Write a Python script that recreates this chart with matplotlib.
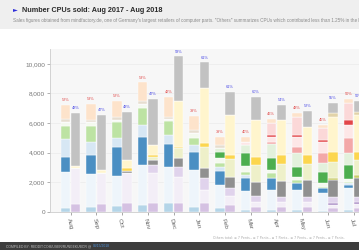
import matplotlib
matplotlib.use("Agg")
import matplotlib.pyplot as plt
from matplotlib.patches import Rectangle
import numpy as np

plt.rcParams["font.family"] = ["Liberation Sans Narrow", "Liberation Sans", "DejaVu Sans"]

months = ["Aug", "Sep", "Oct", "Nov", "Dec", "Jan", "Feb", "Mar", "Apr", "May", "Jun", "Jul"]
amd_share = [52, 53, 52, 53, 42, 39, 39, 40, 46, 48, 45, 50]
intel_share = [48, 47, 48, 47, 58, 61, 61, 60, 54, 52, 55, 50]

# left bar of each month, bottom -> top
amd_lightblue = [250, 360, 430, 470, 590, 360, 250, 135, 135, 135, 90, 135]
amd_pale = [2470, 2210, 2000, 2710, 2470, 2480, 1580, 1305, 1355, 1355, 1170, 1465]
amd_medblue = [1020, 1280, 1980, 1910, 1540, 1220, 960, 840, 790, 450, 340, 230]
amd_sky = [1170, 900, 570, 790, 600, 470, 230, 220, 0, 0, 0, 110]
amd_lgreen = [900, 1020, 1120, 1130, 950, 450, 270, 220, 340, 200, 110, 110]
amd_palewhite = [230, 270, 120, 300, 150, 360, 340, 390, 220, 250, 230, 160]
amd_bgreen = [0, 0, 0, 0, 0, 0, 450, 860, 790, 670, 780, 970]
amd_palegreen = [0, 0, 0, 0, 0, 0, 230, 560, 950, 910, 570, 790]
amd_pink = [0, 0, 0, 0, 0, 0, 0, 0, 170, 440, 680, 1010]
amd_palepink = [0, 0, 0, 0, 0, 0, 0, 220, 300, 640, 780, 900]
amd_red = [0, 0, 0, 0, 0, 0, 0, 0, 150, 150, 120, 340]
amd_palepink2 = [0, 0, 0, 0, 0, 0, 0, 0, 800, 1240, 790, 1130]
amd_thin = [230, 180, 220, 150, 120, 200, 220, 0, 0, 0, 0, 0]
amd_peach = [960, 1080, 1060, 1280, 1330, 950, 560, 340, 290, 270, 220, 290]

# right bar of each month, bottom -> top
intel_purple = [540, 540, 590, 590, 590, 590, 470, 360, 360, 360, 250, 250]
intel_palelav = [2410, 2120, 2030, 2030, 1760, 900, 610, 340, 340, 340, 220, 300]
intel_darkpurple = [0, 0, 0, 0, 0, 0, 0, 0, 0, 0, 120, 100]
intel_lavender = [0, 0, 0, 560, 670, 790, 520, 380, 330, 330, 440, 380]
intel_darkgray = [0, 0, 170, 335, 610, 670, 790, 970, 1070, 1130, 1130, 1250]
intel_olive = [0, 0, 0, 0, 0, 0, 0, 0, 0, 0, 120, 220]
intel_paleyg = [0, 0, 0, 185, 700, 1420, 1170, 1130, 1145, 1090, 1120, 1015]
intel_gold = [0, 0, 160, 150, 80, 270, 290, 520, 605, 600, 680, 565]
intel_paleyellow = [160, 180, 565, 680, 3050, 3740, 2710, 2520, 2370, 1880, 2360, 2480]
intel_tan = [0, 0, 0, 0, 0, 0, 0, 0, 0, 0, 230, 220]
intel_gray = [3600, 3720, 3265, 3110, 3040, 1710, 1530, 1530, 1010, 1100, 680, 720]

amd_stack = [
    (amd_lightblue, "#b4d5e8"), (amd_pale, "#eef5fb"), (amd_medblue, "#4b8fc3"),
    (amd_sky, "#d7e7f4"), (amd_lgreen, "#bde3a3"), (amd_palewhite, "#f4f9ef"),
    (amd_bgreen, "#4dae4f"), (amd_palegreen, "#e3f1dc"), (amd_pink, "#f3a8a8"),
    (amd_palepink, "#fde7e7"), (amd_red, "#e2464a"), (amd_palepink2, "#fbd8d8"),
    (amd_thin, "#e6ddd0"), (amd_peach, "#fde3cb"),
]
intel_stack = [
    (intel_purple, "#d5c1e2"), (intel_palelav, "#f3eef7"), (intel_darkpurple, "#a98cc4"),
    (intel_lavender, "#e0d3ec"), (intel_darkgray, "#909090"), (intel_olive, "#c9cc6a"),
    (intel_paleyg, "#eef0c9"), (intel_gold, "#fcd64e"), (intel_paleyellow, "#fff5cd"),
    (intel_tan, "#e2d3a8"), (intel_gray, "#c2c2c2"),
]

W, H = 359, 250
fig = plt.figure(figsize=(W / 100, H / 100), dpi=100)
fig.patch.set_facecolor("white")
renderer = fig.canvas.get_renderer()

# header band
fig.add_artist(Rectangle((0, 1 - 29 / H), 1, 29 / H, transform=fig.transFigure,
                         facecolor="#efefef", edgecolor="none"))
fig.text(13 / W, 1 - 10 / H, "\u25ba", color="#2b2bd9", fontsize=4.5, va="center",
         family=["DejaVu Sans"])
fig.text(22 / W, 1 - 10 / H, "Number CPUs sold: Aug 2017 - Aug 2018", color="#2a2a2a",
         fontsize=5.2, fontweight="bold", va="center")
fig.text(13 / W, 1 - 20.5 / H,
         "Sales figures obtained from mindfactory.de, one of Germany's largest retailers of "
         "computer parts. \"Others\" summarizes CPUs which contributed less than 1.25% in the last 2 months.",
         color="#8a8a8a", fontsize=3.3, va="center")

# footer band
fig.add_artist(Rectangle((0, 0), 1, 8 / H, transform=fig.transFigure,
                         facecolor="#3d3d3d", edgecolor="none"))
credit = fig.text(6 / W, 4 / H, "COMPILED BY: REDDIT.COM/USER/RUNGEKUBOR @ ", color="#bbbbbb",
                  fontsize=2.4, va="center")
x_end = credit.get_window_extent(renderer).x1
fig.text(x_end / W + 1 / W, 4 / H, "08/15/2018", color="#4d8fd6", fontsize=2.4, va="center")
fig.text(213 / W, 12 / H,
         "Others total: \u2261 7 Pents., \u2261 7 Pents., \u2261 7 Pents., \u2261 7 Pents., "
         "\u2261 7 Pents., \u2261 7 Pents.",
         color="#aaaaaa", fontsize=2.3, va="center", family=["DejaVu Sans"])

ax = fig.add_axes([50 / W, 1 - 212 / H, 1 - 50 / W, (212 - 49) / H])
ax.set_facecolor("#f7f7f7")
x = np.arange(len(months))
bw = 0.37
off = 0.2

bottom = np.zeros(len(months))
for vals, col in amd_stack:
    ax.bar(x - off, vals, bw, bottom=bottom, color=col, edgecolor="#ffffff", linewidth=0.3)
    bottom += np.array(vals)
amd_total = bottom.copy()

bottom = np.zeros(len(months))
for vals, col in intel_stack:
    ax.bar(x + off, vals, bw, bottom=bottom, color=col, edgecolor="#ffffff", linewidth=0.3)
    bottom += np.array(vals)
intel_total = bottom.copy()

for i in range(len(months)):
    ax.text(x[i] - off, amd_total[i] + 180, f"{amd_share[i]}%", color="#e04848",
            fontsize=2.8, ha="center", va="bottom")
    ax.text(x[i] + off, intel_total[i] + 180, f"{intel_share[i]}%", color="#4b4be6",
            fontsize=2.8, ha="center", va="bottom")

ax.set_xlim((50 - 70.5) / 25.75, (W - 70.5) / 25.75)
ax.set_ylim(0, 11000)
ax.set_yticks(range(0, 10001, 2000))
ax.set_yticklabels([f"{v:,}" for v in range(0, 10001, 2000)])
ax.set_xticks(x)
ax.set_xticklabels(months, rotation=-75, ha="left", rotation_mode="anchor")
ax.tick_params(axis="y", labelsize=4.6, colors="#777777", length=2, width=0.4, pad=1.5)
ax.tick_params(axis="x", labelsize=4.6, colors="#666666", length=2, width=0.4, pad=2)
ax.grid(axis="y", color="#e8e8e8", linewidth=0.4)
ax.set_axisbelow(True)
for side in ["top", "right"]:
    ax.spines[side].set_visible(False)
for side in ["left", "bottom"]:
    ax.spines[side].set_color("#cccccc")
    ax.spines[side].set_linewidth(0.6)

fig.savefig("out.png", dpi=100)
